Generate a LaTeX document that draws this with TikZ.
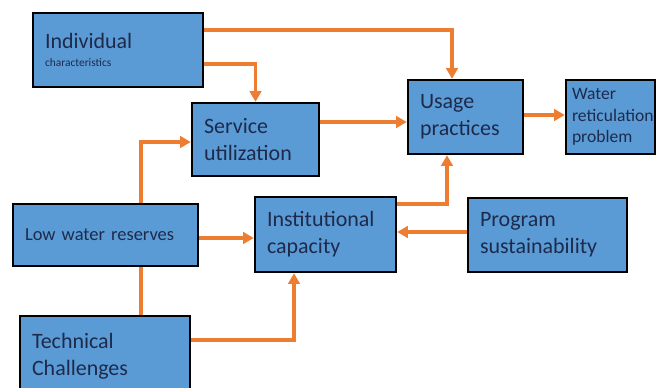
\documentclass[tikz,border=0pt]{standalone}
\usepackage{fontspec}
\setmainfont{Carlito}
\usetikzlibrary{arrows.meta}
\definecolor{boxblue}{RGB}{91,155,213}
\definecolor{arrorange}{RGB}{237,125,49}
\definecolor{txtnavy}{RGB}{30,42,75}
\tikzset{
	blk/.style={draw=black,line width=1.4pt,fill=boxblue,text=txtnavy,align=left,inner xsep=0.24cm,font=\fontsize{12.5}{15.3}\selectfont},
	flow/.style={draw=arrorange,line width=2pt,-{Triangle[length=6pt,width=6.5pt]}}
}
\newcommand{\fbx}[6]{\node[blk,minimum width=#3cm,minimum height=#4cm,text width=#5cm] (#1) at (#2) {#6};}

\begin{document}
\begin{tikzpicture}[x=0.02cm,y=-0.02cm]
	\clip (0,0) rectangle (659,387);
	\fbx{ind}{118,50}{3.4}{1.48}{2.92}{Individual\\[-5.5pt]{\fontsize{6.5}{8}\selectfont characteristics}}
	\fbx{serv}{255.5,139.5}{2.54}{1.46}{2.06}{Service\\utilization}
	\fbx{usage}{465.5,117}{2.3}{1.48}{1.82}{Usage\\practices}
	\node[blk,inner xsep=0.12cm,minimum width=1.78cm,minimum height=1.48cm,text width=1.54cm,font=\fontsize{10}{12.2}\selectfont] (water) at (610.5,117) {Water\\reticulation\\problem};
	\node[blk,minimum width=3.7cm,minimum height=1.24cm,text width=3.22cm,font=\fontsize{10.5}{12}\selectfont] (low) at (105.5,235) {Low water reserves};
	\fbx{inst}{325.5,234.5}{2.82}{1.5}{2.34}{Institutional\\capacity}
	\fbx{prog}{547.5,235}{3.18}{1.48}{2.7}{Program\\sustainability}
	\fbx{tech}{105,356}{3.4}{1.6}{2.92}{Technical\\Challenges}
	\draw[flow] (ind.east |- 0,30) -| (usage.north -| 452,0);
	\draw[flow] (ind.east |- 0,64) -| (serv.north);
	\draw[flow] (low.north -| 141,0) |- (serv.west |- 0,142);
	\draw[flow] (serv.east |- 0,122) -- (usage.west |- 0,122);
	\draw[flow] (usage.east |- 0,115) -- (water.west |- 0,115);
	\draw[flow] (inst.east |- 0,204) -| (usage.south -| 447,0);
	\draw[flow] (low.east |- 0,238) -- (inst.west |- 0,238);
	\draw[flow] (prog.west |- 0,232) -- (inst.east |- 0,232);
	\draw[flow,-] (low.south -| 141,0) -- (tech.north -| 141,0);
	\draw[flow] (tech.east |- 0,340) -| (inst.south -| 294,0);
\end{tikzpicture}
\end{document}
